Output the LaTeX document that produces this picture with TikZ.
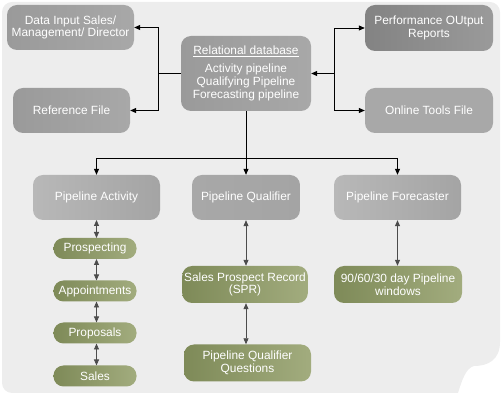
\documentclass[tikz,border=0pt]{standalone}
\usepackage{fontspec}
\setmainfont{Liberation Sans}
\usetikzlibrary{arrows.meta,positioning}
\definecolor{cPanel}{HTML}{EDEDED}
\definecolor{cGreyA}{HTML}{9A9A9A}
\definecolor{cGreyB}{HTML}{A8A8A8}
\definecolor{cGreyL}{HTML}{B8B8B8}
\definecolor{cOliveD}{HTML}{7E8A58}
\definecolor{cOliveL}{HTML}{A2AC7E}
\tikzset{
  box/.style   ={rounded corners=10pt,align=center,text=white,inner sep=2pt,
                 font=\fontsize{11.9}{12.8}\selectfont},
  dbox/.style  ={box,left color=cGreyA,right color=cGreyB},
  lbox/.style  ={box,left color=cGreyL,right color=cGreyA!90!white},
  gbox/.style  ={box,left color=cOliveD,right color=cOliveL,rounded corners=10pt},
  pill/.style  ={gbox,minimum width=83pt,minimum height=21pt},
  arr/.style   ={-{Triangle[length=6pt,width=5pt]},draw=black,line width=0.8pt},
  darr/.style  ={{Triangle[length=6pt,width=5pt]}-{Triangle[length=6pt,width=5pt]},
                 draw=black!70,line width=0.8pt},
}

\begin{document}
\begin{tikzpicture}[x=1pt,y=-1pt]
\useasboundingbox (0,0) rectangle (504,395);

% the curled sheet behind everything
\fill[cPanel]
  (12,2) -- (490,2) arc[start angle=-90,end angle=0,radius=10]
  -- (500,342) .. controls (500,360) and (488,366) .. (474,366)
  .. controls (466,368) and (462,380) .. (458,393)
  -- (12,393) arc[start angle=90,end angle=180,radius=10]
  -- (2,12) arc[start angle=180,end angle=270,radius=10] -- cycle;

% top row
\node[dbox,minimum width=127pt,minimum height=45pt] (din) at (70.5,27.5)
  {Data Input Sales/\\Management/ Director};
\node[dbox,minimum width=117pt,minimum height=45pt] (ref) at (71.5,110.5)
  {Reference File};
\node[dbox,minimum width=130pt,minimum height=75pt] (rdb) at (246,73.5)
  {\underline{Relational database}\\[5pt]Activity pipeline\\Qualifying Pipeline\\Forecasting pipeline};
\node[dbox,left color=cGreyA!85!black,right color=cGreyA,
      minimum width=128pt,minimum height=46pt] (perf) at (429,28)
  {Performance OUtput\\Reports};
\node[dbox,left color=cGreyB,right color=cGreyB,
      minimum width=128pt,minimum height=45pt] (onl) at (429,110.5)
  {Online Tools File};

% pipeline row
\node[lbox,minimum width=127pt,minimum height=45pt] (pact) at (96.5,197.5)
  {Pipeline Activity};
\node[lbox,left color=cGreyB,minimum width=108pt,minimum height=45pt] (pqual) at (246,197.5)
  {Pipeline Qualifier};
\node[lbox,minimum width=127pt,minimum height=45pt] (pfore) at (397.5,197.5)
  {Pipeline Forecaster};

% activity steps
\node[pill] (pros) at (95,248.5) {Prospecting};
\node[pill] (appt) at (95,291)   {Appointments};
\node[pill] (prop) at (95,333)   {Proposals};
\node[pill] (sale) at (95,376)   {Sales};

% qualifier and forecaster records
\node[gbox,minimum width=123pt,minimum height=37pt] (spr) at (245,284.5)
  {Sales Prospect Record\\(SPR)};
\node[gbox,minimum width=127pt,minimum height=37pt] (pqq) at (247.5,363)
  {Pipeline Qualifier\\Questions};
\node[gbox,minimum width=128pt,minimum height=37pt] (wins) at (398,284.5)
  {90/60/30 day Pipeline\\windows};

% database fan-out, left and right
\draw[line width=0.8pt] (rdb.west) -- (158,73.5) coordinate (lj);
\draw[arr] (lj) |- (din.east);
\draw[arr] (lj) |- (ref.east);
\coordinate (rj) at (334,73.5);
\draw[arr] (rj) -- (rdb.east);
\draw[arr] (rj) |- (perf.west);
\draw[arr] (rj) |- (onl.west);

% database down to the three pipelines
\draw[line width=0.8pt] (rdb.south) -- (246,158) coordinate (dj);
\draw[arr] (dj) -| (pact.north);
\draw[arr] (dj) -- (pqual.north);
\draw[arr] (dj) -| (pfore.north);

% two-way links
\draw[darr] (96.5,220) -- (96.5,238);
\draw[darr] (96.5,259) -- (96.5,280.5);
\draw[darr] (96.5,301.5) -- (96.5,322.5);
\draw[darr] (96.5,343.5) -- (96.5,365.5);
\draw[darr] (pqual.south) -- (pqual.south |- spr.north);
\draw[darr] (spr.south -| pqual.south) -- (pqq.north -| pqual.south);
\draw[darr] (pfore.south) -- (pfore.south |- wins.north);
\end{tikzpicture}
\end{document}
